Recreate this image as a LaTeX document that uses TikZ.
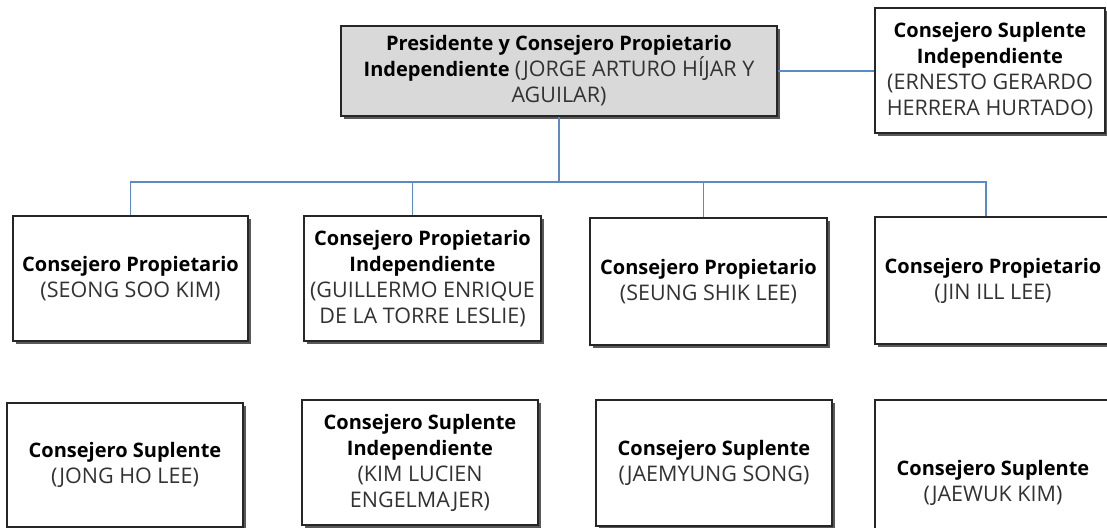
\documentclass[tikz,border=0pt]{standalone}
\usepackage{fontspec}
\setmainfont{Open Sans}
\usetikzlibrary{shadows}
\definecolor{linkblue}{RGB}{91,138,198}
\definecolor{boxgray}{RGB}{217,217,217}
\definecolor{namegray}{RGB}{50,50,50}
\newcommand{\pname}[1]{{\fontsize{21.5}{26}\selectfont\color{namegray}#1}}

\begin{document}
\begin{tikzpicture}[x=1pt,y=-1pt]
  \tikzstyle{member}=[rectangle, draw=black!85, line width=1.2pt, fill=white,
align=center, inner sep=0pt, font=\fontsize{20}{26}\selectfont,
drop shadow={shadow xshift=3pt, shadow yshift=-3pt, fill=black!65, opacity=1}]
  \tikzstyle{link}=[draw=linkblue, line width=1.2pt]
  \useasboundingbox (0,0) rectangle (1107,527);
  \node[member, fill=boxgray, minimum width=436pt, minimum height=90pt] (P_0) at (559,71)
    {\textbf{Presidente y Consejero Propietario}\\ \textbf{Independiente} \pname{(JORGE ARTURO HÍJAR Y}\\ \pname{AGUILAR)}};
  \node[member, minimum width=230pt, minimum height=125pt] (S_0) at (990,70.5)
    {\textbf{Consejero Suplente}\\ \textbf{Independiente}\\ \pname{(ERNESTO GERARDO}\\ \pname{HERRERA HURTADO)}};

  \node[member, minimum width=235pt, minimum height=125pt] (C_1) at (130.5,278.5)
    {\textbf{Consejero Propietario}\\ \pname{(SEONG SOO KIM)}};
  \node[member, minimum width=237pt, minimum height=125pt] (C_2) at (422.5,278.5)
    {\textbf{Consejero Propietario}\\ \textbf{Independiente}\\ \pname{(GUILLERMO ENRIQUE}\\ \pname{DE LA TORRE LESLIE)}};
  \node[member, minimum width=237pt, minimum height=127pt] (C_3) at (708.5,281.5)
    {\textbf{Consejero Propietario}\\ \pname{(SEUNG SHIK LEE)}};
  \node[member, minimum width=236pt, minimum height=127pt] (C_4) at (993,280.5)
    {\textbf{Consejero Propietario}\\ \pname{(JIN ILL LEE)}};

  \node[member, minimum width=236pt, minimum height=124pt] (S_1) at (125,465)
    {\textbf{Consejero Suplente}\\ \pname{(JONG HO LEE)}};
  \node[member, minimum width=236pt, minimum height=125pt] (S_2) at (420,462.5)
    {\textbf{Consejero Suplente}\\ \textbf{Independiente}\\ \pname{(KIM LUCIEN}\\ \pname{ENGELMAJER)}};
  \node[member, minimum width=236pt, minimum height=126pt] (S_3) at (714,463)
    {\textbf{Consejero Suplente}\\ \pname{(JAEMYUNG SONG)}};
  \node[member, minimum width=236pt, minimum height=166pt] (S_4) at (993,483)
    {\textbf{Consejero Suplente}\\ \pname{(JAEWUK KIM)}};

  \coordinate (J) at (559,182);
  \draw[link] (P_0.east) -- (P_0.east -| S_0.west);
  \draw[link] (P_0) -- (J);
  \draw[link] (C_1) |- (J) -| ([xshift=-7pt]C_4.north);
  \draw[link] (J) -| ([xshift=-10pt]C_2.north);
  \draw[link] (J) -| ([xshift=-5pt]C_3.north);
\end{tikzpicture}
\end{document}
